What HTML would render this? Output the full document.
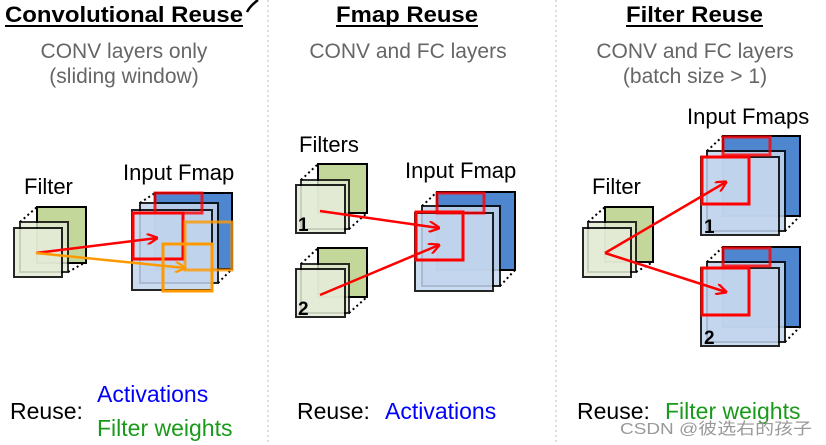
<!DOCTYPE html>
<html><head><meta charset="utf-8"><style>
html,body{margin:0;padding:0;background:#fff;}
svg{display:block;}
text{font-family:"Liberation Sans",Arial,sans-serif;}
</style></head><body>
<svg width="826" height="445" viewBox="0 0 826 445" xmlns="http://www.w3.org/2000/svg">
<defs>
<marker id="ar" viewBox="0 0 10 10" refX="9" refY="5" markerWidth="4.5" markerHeight="4.5" orient="auto"><path d="M0,0 L10,5 L0,10" fill="none" stroke="#f00" stroke-width="2"/></marker>
<marker id="ao" viewBox="0 0 10 10" refX="9" refY="5" markerWidth="4.5" markerHeight="4.5" orient="auto"><path d="M0,0 L10,5 L0,10" fill="none" stroke="#f90" stroke-width="2"/></marker>
</defs>
<line x1="268" y1="0" x2="268" y2="445" stroke="#bbb" stroke-width="1" stroke-dasharray="2,3"/>
<line x1="556" y1="0" x2="556" y2="445" stroke="#bbb" stroke-width="1" stroke-dasharray="2,3"/>

<g font-weight="bold" font-size="22">
<text x="5" y="22" textLength="238" lengthAdjust="spacingAndGlyphs">Convolutional Reuse</text>
<text x="336" y="22" textLength="142" lengthAdjust="spacingAndGlyphs">Fmap Reuse</text>
<text x="626" y="22" textLength="137" lengthAdjust="spacingAndGlyphs">Filter Reuse</text>
</g>
<line x1="5" y1="26" x2="243" y2="26" stroke="#000" stroke-width="2"/>
<line x1="336" y1="26" x2="478" y2="26" stroke="#000" stroke-width="2"/>
<line x1="626" y1="26" x2="763" y2="26" stroke="#000" stroke-width="2"/>
<path d="M247,12 Q250,6 258,0" stroke="#000" stroke-width="2.5" fill="none"/>
<g font-size="21" fill="#666" text-anchor="middle">
<text x="124" y="58">CONV layers only</text>
<text x="124" y="83">(sliding window)</text>
<text x="408" y="58">CONV and FC layers</text>
<text x="695" y="58">CONV and FC layers</text>
<text x="695" y="83">(batch size &gt; 1)</text>
</g>

<!-- dotted depth lines -->
<g stroke="#000" stroke-width="2" stroke-dasharray="2,3" fill="none">
<line x1="20" y1="222" x2="37" y2="207"/><line x1="68" y1="222" x2="86" y2="207"/><line x1="68" y1="272" x2="86" y2="262"/>
<line x1="140" y1="203" x2="155" y2="193"/><line x1="218" y1="203" x2="232" y2="193"/><line x1="218" y1="283" x2="232" y2="269"/>
<line x1="301" y1="180" x2="318" y2="164"/><line x1="349" y1="180" x2="367" y2="164"/><line x1="349" y1="229" x2="367" y2="213"/>
<line x1="301" y1="264" x2="318" y2="248"/><line x1="349" y1="264" x2="367" y2="248"/><line x1="349" y1="313" x2="367" y2="297"/>
<line x1="422" y1="206" x2="437" y2="192"/><line x1="500" y1="206" x2="515" y2="192"/><line x1="500" y1="286" x2="515" y2="270"/>
<line x1="588" y1="222" x2="605" y2="207"/><line x1="636" y1="222" x2="653" y2="207"/><line x1="636" y1="272" x2="653" y2="262"/>
<line x1="707" y1="151" x2="723" y2="136"/><line x1="785" y1="151" x2="800" y2="136"/><line x1="785" y1="231" x2="800" y2="216"/>
<line x1="707" y1="262" x2="723" y2="247"/><line x1="785" y1="262" x2="800" y2="247"/><line x1="785" y1="342" x2="800" y2="327"/>
</g>

<g stroke="#000" stroke-width="2">
<rect x="37" y="207" width="49" height="56" fill="#c4d79b"/>
<rect x="20" y="222" width="48" height="50" fill="#e2ead2" opacity="0.8"/>
<rect x="14" y="228" width="48" height="49" fill="#e4ebd6" opacity="0.85"/>
<rect x="155" y="193" width="77" height="76" fill="#4f86d0"/>
<rect x="140" y="203" width="78" height="80" fill="#c5d7ee" opacity="0.85"/>
<rect x="132" y="210" width="80" height="80" fill="#c2d5ee" opacity="0.85"/>
</g>
<g fill="none" stroke-width="3">
<rect x="155" y="193" width="47" height="20" stroke="#f00" opacity="0.8"/>
<rect x="133" y="213" width="50" height="46" stroke="#f00"/>
<rect x="185" y="222" width="47" height="48" stroke="#f90" opacity="0.8"/>
<rect x="163" y="244" width="49" height="47" stroke="#f90"/>
</g>
<line x1="36" y1="253" x2="157" y2="238" stroke="#f00" stroke-width="2.5" marker-end="url(#ar)"/>
<line x1="36" y1="253" x2="185" y2="268" stroke="#f90" stroke-width="2.5" marker-end="url(#ao)"/>
<g font-size="22" fill="#000">
<text x="24" y="194">Filter</text>
<text x="123" y="180">Input Fmap</text>
<text x="299" y="152">Filters</text>
<text x="405" y="178">Input Fmap</text>
<text x="592" y="194">Filter</text>
<text x="687" y="124">Input Fmaps</text>
</g>

<g stroke="#000" stroke-width="2">
<rect x="318" y="164" width="49" height="49" fill="#c4d79b"/>
<rect x="301" y="180" width="48" height="49" fill="#e2ead2" opacity="0.8"/>
<rect x="296" y="185" width="49" height="48" fill="#e4ebd6" opacity="0.85"/>
<rect x="318" y="248" width="49" height="49" fill="#c4d79b"/>
<rect x="301" y="264" width="48" height="49" fill="#e2ead2" opacity="0.8"/>
<rect x="296" y="269" width="49" height="48" fill="#e4ebd6" opacity="0.85"/>
<rect x="437" y="192" width="78" height="78" fill="#4f86d0"/>
<rect x="422" y="206" width="78" height="80" fill="#c5d7ee" opacity="0.85"/>
<rect x="415" y="213" width="78" height="78" fill="#c2d5ee" opacity="0.85"/>
</g>
<g fill="none" stroke="#f00" stroke-width="3">
<rect x="437" y="193" width="47" height="20" opacity="0.8"/>
<rect x="416" y="212" width="47" height="48"/>
</g>
<g font-size="19" font-weight="bold"><text x="298" y="231">1</text><text x="298" y="315">2</text></g>
<line x1="320" y1="211" x2="439" y2="228" stroke="#f00" stroke-width="2.5" marker-end="url(#ar)"/>
<line x1="320" y1="295" x2="439" y2="245" stroke="#f00" stroke-width="2.5" marker-end="url(#ar)"/>

<g stroke="#000" stroke-width="2">
<rect x="605" y="207" width="48" height="55" fill="#c4d79b"/>
<rect x="588" y="222" width="48" height="50" fill="#e2ead2" opacity="0.8"/>
<rect x="583" y="228" width="48" height="49" fill="#e4ebd6" opacity="0.85"/>
<rect x="723" y="136" width="77" height="80" fill="#4f86d0"/>
<rect x="707" y="151" width="78" height="80" fill="#c5d7ee" opacity="0.85"/>
<rect x="701" y="157" width="78" height="78" fill="#c2d5ee" opacity="0.85"/>
<rect x="723" y="247" width="77" height="80" fill="#4f86d0"/>
<rect x="707" y="262" width="78" height="80" fill="#c5d7ee" opacity="0.85"/>
<rect x="701" y="268" width="78" height="78" fill="#c2d5ee" opacity="0.85"/>
</g>
<g fill="none" stroke="#f00" stroke-width="3">
<rect x="723" y="137" width="47" height="18" opacity="0.8"/>
<rect x="702" y="157" width="47" height="47"/>
<rect x="723" y="248" width="47" height="18" opacity="0.8"/>
<rect x="702" y="268" width="47" height="47"/>
</g>
<g font-size="19" font-weight="bold"><text x="704" y="233">1</text><text x="704" y="344">2</text></g>
<line x1="605" y1="253" x2="726" y2="182" stroke="#f00" stroke-width="2.5" marker-end="url(#ar)"/>
<line x1="605" y1="253" x2="726" y2="292" stroke="#f00" stroke-width="2.5" marker-end="url(#ar)"/>

<g font-size="23">
<text x="10" y="419">Reuse:</text>
<text x="97" y="402" fill="#00f">Activations</text>
<text x="97" y="436" fill="#1a9a1a">Filter weights</text>
<text x="297" y="419">Reuse:</text>
<text x="385" y="419" fill="#00f">Activations</text>
<text x="577" y="419">Reuse:</text>
<text x="665" y="419" fill="#1a9a1a">Filter weights</text>
</g>
<text x="620" y="434" font-size="16" fill="#999" textLength="192" lengthAdjust="spacingAndGlyphs" font-family="Liberation Sans,'Noto Sans CJK SC',sans-serif">CSDN @彼选右的孩子</text>
</svg>
</body></html>
